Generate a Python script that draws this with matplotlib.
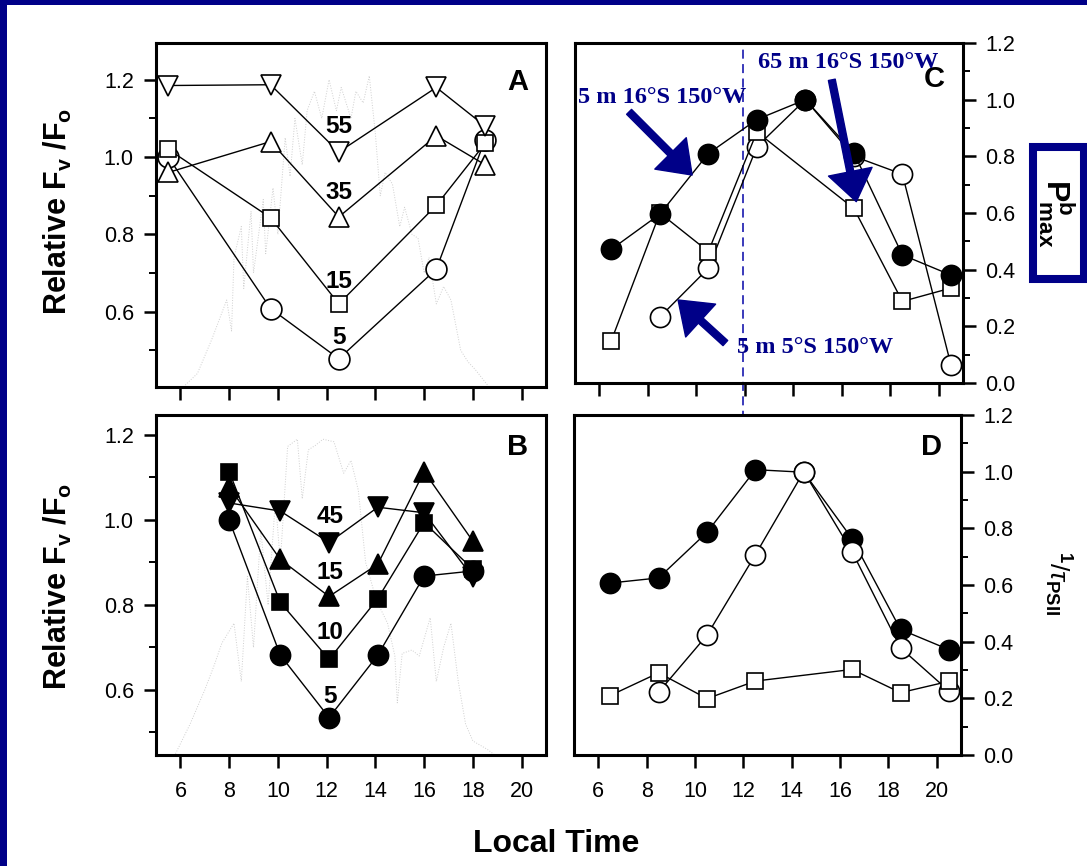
import matplotlib
matplotlib.use('Agg')
import matplotlib.pyplot as plt
from matplotlib.patches import Rectangle

plt.rcParams['font.family'] = ['Liberation Sans', 'DejaVu Sans']
plt.rcParams['mathtext.fontset'] = 'custom'
plt.rcParams['mathtext.rm'] = 'Liberation Sans'
plt.rcParams['mathtext.bf'] = 'Liberation Sans:bold'
plt.rcParams['mathtext.it'] = 'Liberation Sans:italic'

# ---- data ----
hours = [6, 8, 10, 12, 14, 16, 18, 20]

# panel A (open symbols, depth in m)
a_time = [5.5, 9.7, 12.5, 16.5, 18.5]
a_55 = [1.185, 1.187, 1.013, 1.18, 1.08]
a_35 = [0.96, 1.04, 0.845, 1.055, 0.98]
a_15 = [1.02, 0.843, 0.62, 0.875, 1.035]
a_5 = [1.0, 0.608, 0.478, 0.71, 1.045]
a_labels = ['55', '35', '15', '5']
a_label_y = [1.079, 0.907, 0.679, 0.532]

# panel B (filled symbols)
b_time = [8.0, 10.1, 12.1, 14.1, 16.0, 18.0]
b_45 = [1.04, 1.021, 0.947, 1.03, 1.017, 0.865]
b_15 = [1.078, 0.907, 0.82, 0.896, 1.114, 0.95]
b_10 = [1.114, 0.806, 0.672, 0.815, 0.994, 0.884]
b_5 = [1.0, 0.682, 0.535, 0.682, 0.868, 0.88]
b_labels = ['45', '15', '10', '5']
b_label_y = [1.009, 0.876, 0.736, 0.585]

# irradiance traces behind A and B
a_sun_t = [6.2, 6.7, 7.3, 7.9, 8.1, 8.2, 8.5, 8.6, 8.9, 9.0, 9.4, 9.5, 9.8, 10.0,
           10.3, 10.5, 10.7, 11.0, 11.2, 11.5, 11.8, 12.1, 12.4, 12.6, 13.0, 13.2,
           13.5, 13.75, 14.0, 14.2, 14.4, 14.7, 15.0, 15.2, 15.5, 15.75, 16.0, 16.2,
           16.5, 16.8, 17.1, 17.5, 17.8, 18.1, 18.6]
a_sun = [0.41, 0.44, 0.53, 0.63, 0.55, 0.74, 0.82, 0.66, 0.86, 0.70, 0.89, 0.75,
         0.92, 0.80, 1.05, 0.95, 1.10, 0.98, 1.12, 1.17, 1.10, 1.20, 1.12, 1.18,
         1.10, 1.17, 1.14, 1.21, 1.06, 0.90, 0.96, 0.93, 0.82, 0.87, 0.80, 0.79,
         0.70, 0.74, 0.62, 0.665, 0.63, 0.50, 0.47, 0.45, 0.41]
b_sun_t = [5.8, 6.4, 7.0, 7.4, 7.7, 8.2, 8.5, 8.75, 9.0, 9.3, 9.6, 9.9, 10.1, 10.4,
           10.8, 11.0, 11.25, 11.55, 11.85, 12.3, 12.7, 13.0, 13.3, 13.6, 14.05, 14.5,
           14.8, 14.9, 15.1, 15.5, 15.8, 16.25, 16.5, 16.8, 17.1, 17.4, 17.7, 18.0,
           18.6, 18.9]
b_sun = [0.45, 0.52, 0.60, 0.66, 0.71, 0.757, 0.62, 0.867, 0.70, 0.976, 0.80, 1.047,
         0.90, 1.173, 1.19, 1.05, 1.165, 1.176, 1.19, 1.184, 1.11, 1.14, 1.07, 0.90,
         0.81, 0.757, 0.68, 0.57, 0.686, 0.694, 0.68, 0.77, 0.62, 0.70, 0.757, 0.62,
         0.52, 0.48, 0.46, 0.447]

# panel C (Pb max)
c_filled_t = [6.5, 8.5, 10.5, 12.5, 14.5, 16.5, 18.5, 20.5]
c_filled = [0.472, 0.596, 0.81, 0.93, 1.0, 0.812, 0.452, 0.381]
c_square_t = [6.5, 8.5, 10.5, 12.5, 16.5, 18.5, 20.5]
c_square = [0.15, 0.60, 0.464, 0.886, 0.616, 0.288, 0.335]
c_open_t = [8.5, 10.5, 12.5, 14.5, 16.5, 18.5, 20.5]
c_open = [0.233, 0.405, 0.834, 1.0, 0.80, 0.737, 0.065]

# panel D (1/tau PSII)
d_filled_t = [6.5, 8.5, 10.5, 12.5, 14.5, 16.5, 18.5, 20.5]
d_filled = [0.607, 0.625, 0.786, 1.007, 0.998, 0.763, 0.443, 0.372]
d_open_t = [8.5, 10.5, 12.5, 14.5, 16.5, 18.5, 20.5]
d_open = [0.222, 0.423, 0.707, 1.0, 0.717, 0.378, 0.226]
d_square_t = [6.5, 8.5, 10.5, 12.5, 16.5, 18.5, 20.5]
d_square = [0.21, 0.29, 0.199, 0.261, 0.302, 0.22, 0.26]

navy = '#000088'
W, H = 1087, 866


def box(l, t, r, b):
    return [l / W, 1 - b / H, (r - l) / W, (b - t) / H]


def style(ax, ylim, yticks, yminor, right=False, xlabels=False):
    for s in ax.spines.values():
        s.set_linewidth(2.2)
    ax.set_xlim(5, 21)
    ax.set_xticks(hours)
    ax.set_ylim(*ylim)
    ax.set_yticks(yticks)
    ax.set_yticks(yminor, minor=True)
    ax.set_yticklabels(['%.1f' % v for v in yticks])
    ax.tick_params(which='major', direction='out', length=9, width=1.8, labelsize=15.5, pad=7)
    ax.tick_params(which='minor', direction='out', length=5, width=1.4)
    ax.tick_params(axis='x', pad=9.5, labelbottom=xlabels)
    if right:
        ax.yaxis.tick_right()
        ax.yaxis.set_label_position('right')


def plot_series(ax, t, y, marker, filled, ms, z):
    ax.plot(t, y, color='black', lw=1.0, marker=marker, ms=ms,
            mfc='black' if filled else 'white', mec='black', mew=1.2, zorder=z)


fig = plt.figure(figsize=(10.87, 8.66), dpi=100)

axA = fig.add_axes(box(156, 43, 546, 387))
axB = fig.add_axes(box(156, 415, 546, 755))
axC = fig.add_axes(box(575, 43, 963, 383))
axD = fig.add_axes(box(574, 415, 961, 755))

# ---- A ----
axA.plot(a_sun_t, a_sun, color='#cfcfcf', lw=0.7, ls=':', zorder=1)
plot_series(axA, a_time, a_5, 'o', False, 15, 3)
plot_series(axA, a_time, a_35, '^', False, 15, 4)
plot_series(axA, a_time, a_15, 's', False, 12, 5)
plot_series(axA, a_time, a_55, 'v', False, 15, 6)
for lab, yy in zip(a_labels, a_label_y):
    axA.text(12.5, yy, lab, ha='center', va='center', fontsize=17.5, fontweight='bold', zorder=7)
axA.text(19.83, 1.195, 'A', ha='center', va='center', fontsize=21, fontweight='bold')
style(axA, (0.405, 1.295), [0.6, 0.8, 1.0, 1.2], [0.5, 0.7, 0.9, 1.1])

# ---- B ----
axB.plot(b_sun_t, b_sun, color='#cfcfcf', lw=0.7, ls=':', zorder=1)
plot_series(axB, b_time, b_5, 'o', True, 14.5, 3)
plot_series(axB, b_time, b_45, 'v', True, 14, 4)
plot_series(axB, b_time, b_15, '^', True, 14, 5)
plot_series(axB, b_time, b_10, 's', True, 11.5, 6)
for lab, yy in zip(b_labels, b_label_y):
    axB.text(12.15, yy, lab, ha='center', va='center', fontsize=17.5, fontweight='bold', zorder=7)
axB.text(19.83, 1.172, 'B', ha='center', va='center', fontsize=21, fontweight='bold')
style(axB, (0.447, 1.247), [0.6, 0.8, 1.0, 1.2], [0.5, 0.7, 0.9, 1.1], xlabels=True)

# ---- C ----
plot_series(axC, c_open_t, c_open, 'o', False, 14.5, 3)
plot_series(axC, c_square_t, c_square, 's', False, 12, 4)
plot_series(axC, c_filled_t, c_filled, 'o', True, 14.5, 5)
axC.text(19.8, 1.073, 'C', ha='center', va='center', fontsize=21, fontweight='bold')
style(axC, (0, 1.2), [0, 0.2, 0.4, 0.6, 0.8, 1.0, 1.2], [0.1, 0.3, 0.5, 0.7, 0.9, 1.1], right=True)

arrow_kw = dict(color=navy, width=5, headwidth=32, headlength=22, shrink=0)
serif = dict(family='Liberation Serif', fontweight='bold', fontsize=17.5, color=navy, va='center', ha='left')
axC.annotate('', xy=(9.83, 0.734), xytext=(7.23, 0.957), arrowprops=arrow_kw, zorder=8)
axC.text(5.12, 1.006, '5 m 16°S 150°W', zorder=9, **serif)
axC.annotate('', xy=(16.6, 0.64), xytext=(15.59, 1.07), arrowprops=arrow_kw, zorder=8)
axC.text(12.56, 1.13, '65 m 16°S 150°W', zorder=9, **serif)
axC.annotate('', xy=(9.25, 0.293), xytext=(11.2, 0.141), arrowprops=arrow_kw, zorder=8)
axC.text(11.69, 0.127, '5 m 5°S 150°W', zorder=9, **serif)

# dashed marker at noon, running through C and D
axC.axvline(11.93, ymin=-1.085, ymax=1, clip_on=False, color='#2a2ab4', lw=1.3,
            ls=(0, (5, 3)), zorder=2)

# ---- D ----
plot_series(axD, d_filled_t, d_filled, 'o', True, 14.5, 3)
plot_series(axD, d_open_t, d_open, 'o', False, 14.5, 4)
plot_series(axD, d_square_t, d_square, 's', False, 12, 5)
axD.text(19.8, 1.087, 'D', ha='center', va='center', fontsize=21, fontweight='bold')
style(axD, (0, 1.2), [0, 0.2, 0.4, 0.6, 0.8, 1.0, 1.2], [0.1, 0.3, 0.5, 0.7, 0.9, 1.1],
      right=True, xlabels=True)

# ---- axis titles ----
ylab = r'Relative F$_{\mathbf{v}}$ /F$_{\mathbf{o}}$'
fig.text(58 / W, 1 - 211 / H, ylab, rotation=90, ha='center', va='center', fontsize=22, fontweight='bold')
fig.text(58 / W, 1 - 586 / H, ylab, rotation=90, ha='center', va='center', fontsize=22, fontweight='bold')
fig.text(556 / W, 1 - 844 / H, 'Local Time', ha='center', va='center', fontsize=23, fontweight='bold')
fig.text(1058 / W, 1 - 583 / H, r'$^{\mathbf{1}}/\tau_{\mathbf{PSII}}$', rotation=-90,
         ha='center', va='center', fontsize=19)
fig.text(1056 / W, 1 - 213 / H, r'$\mathbf{P}^{\mathbf{b}}_{\mathbf{max}}$', rotation=-90,
         ha='center', va='center', fontsize=23)

# ---- navy frame pieces and box ----
fig.add_artist(Rectangle((0, 0), 7 / W, 1, transform=fig.transFigure, color=navy, lw=0))
fig.add_artist(Rectangle((0, 1 - 5 / H), 1, 5 / H, transform=fig.transFigure, color=navy, lw=0))
fig.add_artist(Rectangle((1033 / W, 1 - 279.5 / H), 50.5 / W, 132 / H, transform=fig.transFigure,
                         fill=False, edgecolor=navy, lw=5.8))

fig.savefig('out.png', dpi=100)
